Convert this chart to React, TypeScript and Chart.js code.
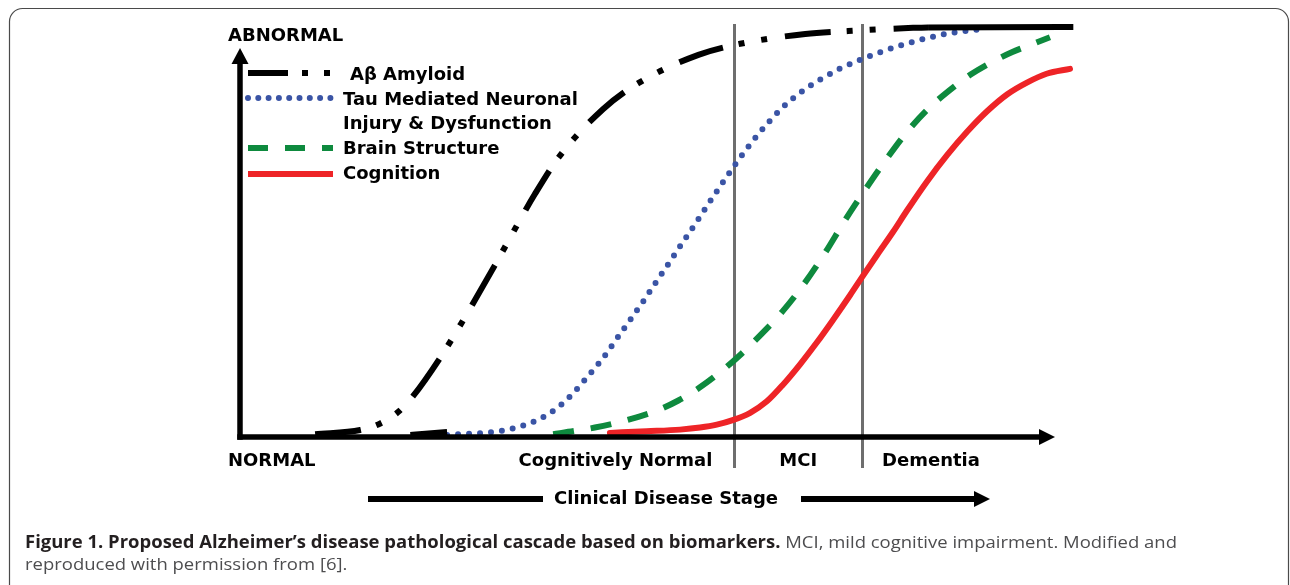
import React, { useEffect, useRef } from "react";
import { Chart, registerables } from "chart.js";

Chart.register(...registerables);

// ---- Data (x: disease progression 0-100, y: biomarker abnormality 0-100) ----
const amyloidX = [9.0, 14.4, 16.8, 19.0, 20.7, 24.0, 26.5, 30.5, 32.7, 35.3, 38.2, 43.5, 47.7, 54.9, 59.9, 67.7, 72.8, 80.6, 82.4, 99.8];
const amyloidY = [0.7, 1.7, 3.3, 6.2, 9.9, 19.4, 27.7, 41.8, 49.9, 59.2, 68.3, 80.0, 86.3, 93.2, 95.9, 98.3, 99.0, 99.8, 99.9, 100];
const amyloidSolidFrom = 18;

const amyloidStubX = [20.4, 24.8];
const amyloidStubY = [0.5, 1.2];

const tauX = [24.8, 26.3, 30.3, 32.9, 35.6, 38.0, 39.9, 41.7, 43.5, 45.1, 46.7, 48.3, 49.8, 51.4, 52.9, 54.4, 56.5, 58.1, 59.6, 61.3, 63.1, 65.0, 67.1, 69.5, 71.9, 74.5, 77.0, 79.6, 82.3, 84.7, 89.0];
const tauY = [0.5, 0.7, 1.2, 2.2, 4.1, 7.1, 10.7, 14.9, 19.3, 23.9, 28.5, 33.1, 37.7, 42.5, 47.1, 51.6, 58.1, 62.9, 67.3, 71.9, 76.3, 80.4, 84.0, 87.2, 89.9, 92.2, 94.1, 95.8, 97.3, 98.4, 99.5];

const brainX = [37.5, 40, 42.5, 45, 47.5, 50, 52.5, 55, 57.5, 60, 62.5, 65, 67.5, 70, 72.5, 75, 77.5, 80, 82.5, 85, 87.5, 90, 92.5, 95, 97];
const brainY = [0.7, 1.45, 2.3, 3.4, 4.8, 6.5, 8.9, 12.0, 15.8, 20.2, 25.2, 30.7, 37.2, 44.7, 53.0, 60.7, 68.0, 74.7, 80.2, 84.6, 88.4, 91.4, 93.9, 95.9, 97.5];

const cognitionX = [44.3, 48.7, 52.7, 55.1, 57.1, 59.0, 61.1, 63.1, 65.0, 67.1, 69.1, 71.0, 73.1, 74.5, 76.3, 78.2, 79.9, 82.3, 84.7, 87.1, 89.5, 91.9, 94.3, 96.6, 99.4];
const cognitionY = [1.0, 1.4, 1.8, 2.3, 3.0, 4.1, 5.9, 8.7, 12.7, 17.8, 23.1, 28.5, 34.7, 39.0, 44.4, 50.0, 55.3, 62.4, 68.8, 74.5, 79.5, 83.6, 86.5, 88.6, 89.8];

const stageBoundaries = [59.2, 74.5];
const stageLabels = ["Cognitively Normal", "MCI", "Dementia"];
const legendLabels = ["Aβ Amyloid", "Tau Mediated Neuronal", "Injury & Dysfunction", "Brain Structure", "Cognition"];
const yAxisTop = "ABNORMAL";
const yAxisBottom = "NORMAL";
const xAxisTitle = "Clinical Disease Stage";
const captionBold = "Figure 1. Proposed Alzheimer’s disease pathological cascade based on biomarkers.";
const captionRegular = " MCI, mild cognitive impairment. Modified and";
const captionLine2 = "reproduced with permission from [6].";

// ---- Styles ----
const BLACK = "#000000";
const BLUE = "#3a54a5";
const GREEN = "#0e8a3e";
const RED = "#ee2427";
const GRAY = "#6e6e6e";
const AMYLOID_DASH = [46, 16, 6, 17, 6, 18];
const TAU_DASH = [0, 11];
const BRAIN_DASH = [21, 17];
const LW = 6;
const FONT = "'DejaVu Sans', Verdana, sans-serif";

const pts = (xs: number[], ys: number[]) => xs.map((x, i) => ({ x, y: ys[i] }));

function line(ctx: CanvasRenderingContext2D, x1: number, y1: number, x2: number, y2: number) {
  ctx.beginPath();
  ctx.moveTo(x1, y1);
  ctx.lineTo(x2, y2);
  ctx.stroke();
}

function tri(ctx: CanvasRenderingContext2D, a: number[], b: number[], c: number[]) {
  ctx.beginPath();
  ctx.moveTo(a[0], a[1]);
  ctx.lineTo(b[0], b[1]);
  ctx.lineTo(c[0], c[1]);
  ctx.closePath();
  ctx.fill();
}

const overlayPlugin = {
  id: "overlay",
  beforeDraw(chart: any) {
    const ctx: CanvasRenderingContext2D = chart.ctx;
    ctx.save();
    ctx.fillStyle = "#ffffff";
    ctx.fillRect(0, 0, chart.width, chart.height);
    ctx.strokeStyle = "#4a4a4a";
    ctx.lineWidth = 1.2;
    ctx.beginPath();
    (ctx as any).roundRect(9.5, 8.5, 1279, 600, 13);
    ctx.stroke();
    ctx.restore();
  },
  beforeDatasetsDraw(chart: any) {
    const ctx: CanvasRenderingContext2D = chart.ctx;
    const xs = chart.scales.x;
    ctx.save();
    ctx.strokeStyle = GRAY;
    ctx.lineWidth = 3;
    stageBoundaries.forEach((b) => {
      const px = Math.round(xs.getPixelForValue(b)) + 0.5;
      line(ctx, px, 24, px, 468);
    });
    ctx.restore();
  },
  afterDatasetsDraw(chart: any) {
    const ctx: CanvasRenderingContext2D = chart.ctx;
    const xs = chart.scales.x;
    const ys = chart.scales.y;
    const x0 = xs.getPixelForValue(0);
    const y0 = ys.getPixelForValue(0);
    ctx.save();
    // axes
    ctx.strokeStyle = BLACK;
    ctx.fillStyle = BLACK;
    ctx.lineWidth = 5.5;
    ctx.lineCap = "butt";
    line(ctx, x0, y0 + 2.75, x0, 60);
    tri(ctx, [x0, 48], [x0 - 8.5, 64], [x0 + 8.5, 64]);
    line(ctx, x0 - 2.75, y0, 1042, y0);
    tri(ctx, [1055, y0], [1039, y0 - 8], [1039, y0 + 8]);

    // text
    ctx.textBaseline = "middle";
    ctx.font = `bold 18px ${FONT}`;
    ctx.textAlign = "left";
    ctx.fillText(yAxisTop, 228, 36);
    ctx.fillText(yAxisBottom, 228, 461);

    const b0 = xs.getPixelForValue(stageBoundaries[0]);
    const b1 = xs.getPixelForValue(stageBoundaries[1]);
    ctx.textAlign = "right";
    ctx.fillText(stageLabels[0], b0 - 22, 461);
    ctx.textAlign = "center";
    ctx.fillText(stageLabels[1], (b0 + b1) / 2, 461);
    ctx.textAlign = "left";
    ctx.fillText(stageLabels[2], b1 + 20, 461);

    ctx.textAlign = "center";
    ctx.fillText(xAxisTitle, 666, 499);
    ctx.lineWidth = 6;
    line(ctx, 368, 499, 543, 499);
    line(ctx, 801, 499, 977, 499);
    tri(ctx, [990, 499], [974, 491], [974, 507]);

    // legend
    ctx.textAlign = "left";
    ctx.fillText(legendLabels[0], 350, 75);
    ctx.fillText(legendLabels[1], 343, 100);
    ctx.fillText(legendLabels[2], 343, 124);
    ctx.fillText(legendLabels[3], 343, 149);
    ctx.fillText(legendLabels[4], 343, 174);

    ctx.lineWidth = LW;
    ctx.strokeStyle = BLACK;
    ctx.setLineDash([40, 14, 6, 16, 6, 20]);
    line(ctx, 248, 73, 333, 73);
    ctx.strokeStyle = BLUE;
    ctx.lineCap = "round";
    ctx.setLineDash([0, 10.3]);
    line(ctx, 248, 98, 332, 98);
    ctx.lineCap = "butt";
    ctx.strokeStyle = GREEN;
    ctx.setLineDash([20, 17]);
    line(ctx, 248, 148, 333, 148);
    ctx.strokeStyle = RED;
    ctx.setLineDash([]);
    line(ctx, 248, 174, 333, 174);

    // caption
    const capFont = "'Open Sans', 'Noto Sans', sans-serif";
    ctx.textBaseline = "alphabetic";
    ctx.textAlign = "left";
    ctx.font = `700 17px ${capFont}`;
    const wb = ctx.measureText(captionBold).width;
    ctx.font = `400 17px ${capFont}`;
    const wr = ctx.measureText(captionRegular).width;
    const sx = 1152 / (wb + wr);
    ctx.save();
    ctx.translate(25, 0);
    ctx.scale(sx, 1);
    ctx.font = `700 17px ${capFont}`;
    ctx.fillStyle = "#231f20";
    ctx.fillText(captionBold, 0, 548);
    ctx.font = `400 17px ${capFont}`;
    ctx.fillStyle = "#4d4d4f";
    ctx.fillText(captionRegular, wb, 548);
    ctx.fillText(captionLine2, 0, 570);
    ctx.restore();

    ctx.restore();
  },
};

export default function App() {
  const ref = useRef<HTMLCanvasElement | null>(null);
  useEffect(() => {
    if (!ref.current) return;
    const chart = new Chart(ref.current, {
      type: "line",
      data: {
        datasets: [
          {
            label: legendLabels[0],
            data: pts(amyloidX, amyloidY),
            borderColor: BLACK,
            borderWidth: LW,
            borderDash: AMYLOID_DASH,
            borderCapStyle: "butt",
            segment: {
              borderDash: (c: any) => (c.p0DataIndex >= amyloidSolidFrom ? [] : undefined),
            },
          },
          {
            label: "amyloid-stub",
            data: pts(amyloidStubX, amyloidStubY),
            borderColor: BLACK,
            borderWidth: LW,
            borderCapStyle: "butt",
          },
          {
            label: legendLabels[1],
            data: pts(tauX, tauY),
            borderColor: BLUE,
            borderWidth: LW,
            borderDash: TAU_DASH,
            borderCapStyle: "round",
          },
          {
            label: legendLabels[3],
            data: pts(brainX, brainY),
            borderColor: GREEN,
            borderWidth: LW,
            borderDash: BRAIN_DASH,
            borderCapStyle: "butt",
          },
          {
            label: legendLabels[4],
            data: pts(cognitionX, cognitionY),
            borderColor: RED,
            borderWidth: LW,
            borderCapStyle: "round",
          },
        ],
      },
      options: {
        animation: false,
        responsive: false,
        maintainAspectRatio: false,
        events: [],
        layout: { padding: { left: 240, right: 215, top: 27, bottom: 148 } },
        scales: {
          x: { type: "linear", min: 0, max: 100, display: false },
          y: { type: "linear", min: 0, max: 100, display: false },
        },
        elements: {
          point: { radius: 0, hoverRadius: 0 },
          line: { cubicInterpolationMode: "monotone", borderJoinStyle: "round", fill: false },
        },
        datasets: { line: { clip: false } } as any,
        plugins: { legend: { display: false }, tooltip: { enabled: false } },
      },
      plugins: [overlayPlugin],
    } as any);
    return () => chart.destroy();
  }, []);

  return (
    <div style={{ position: "absolute", left: 0, top: 0, width: 1290, height: 585, background: "#fff" }}>
      <canvas ref={ref} width={1290} height={585} style={{ display: "block" }} />
    </div>
  );
}
